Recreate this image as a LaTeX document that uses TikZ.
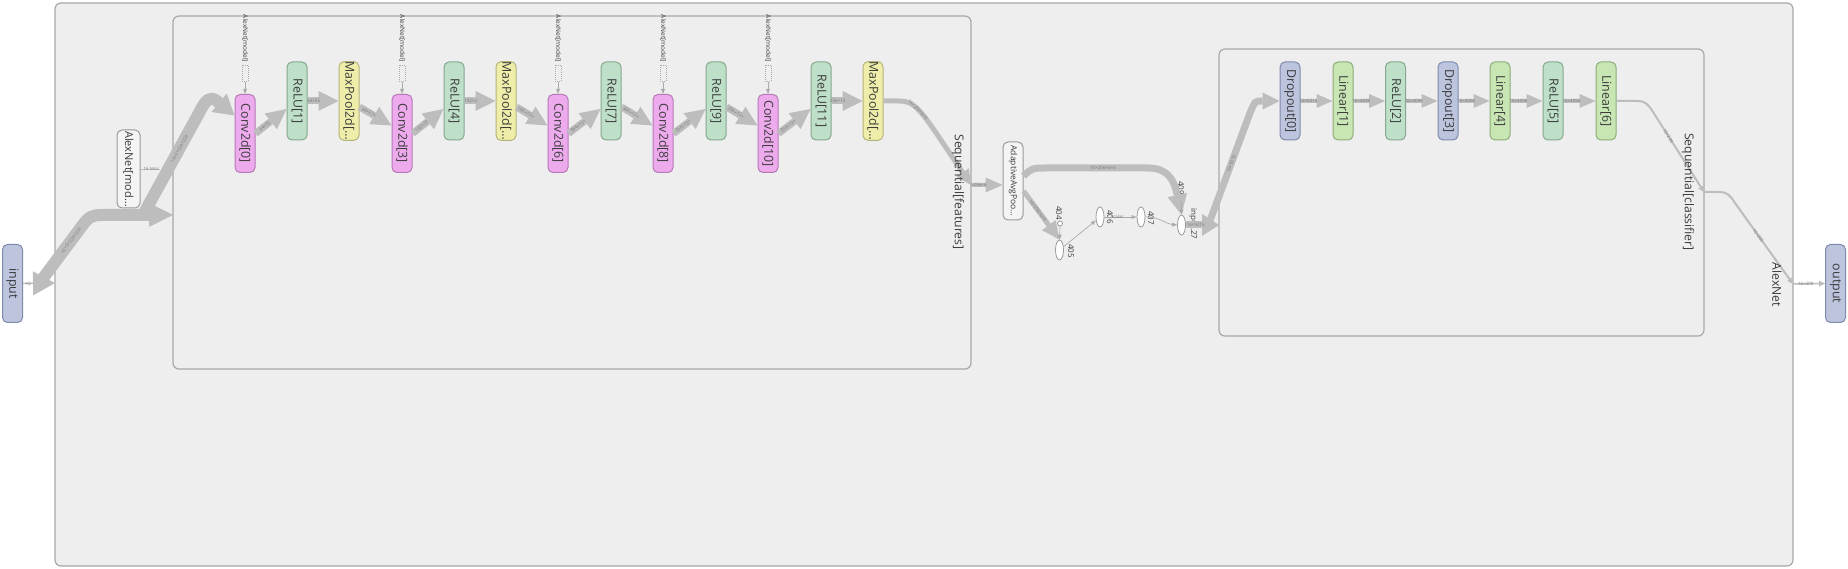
\documentclass[tikz,border=0pt]{standalone}
\usepackage{fontspec}
\setmainfont{Open Sans}
\usepackage{graphicx}
\usetikzlibrary{arrows.meta,calc,shapes.geometric}
\definecolor{bgc}{HTML}{EEEEEE}
\definecolor{clb}{HTML}{A8A8A8}
\definecolor{edgec}{HTML}{BDBDBD}
\definecolor{thinc}{HTML}{ABABAB}
\definecolor{convf}{HTML}{EDAAED}
\definecolor{convd}{HTML}{B679B6}
\definecolor{reluf}{HTML}{BEDFC8}
\definecolor{relud}{HTML}{86A88F}
\definecolor{poolf}{HTML}{EEEEAA}
\definecolor{poold}{HTML}{B4B47A}
\definecolor{dropf}{HTML}{BCC4DE}
\definecolor{dropd}{HTML}{7F8BAA}
\definecolor{linf}{HTML}{C8E5B4}
\definecolor{lind}{HTML}{8BAD79}
\definecolor{plainf}{HTML}{F4F4F4}
\definecolor{plaind}{HTML}{9A9A9A}
\definecolor{txt}{HTML}{3C3C3C}
\definecolor{lbl}{HTML}{7A7A7A}
\newcommand{\vtext}[1]{\rotatebox{-90}{#1}}
\begin{document}
\begin{tikzpicture}[x=1pt,y=-1pt,
  cluster/.style={draw=clb, fill=bgc, line width=1.2pt, rounded corners=6pt},
  op/.style={draw, rounded corners=5pt, minimum width=20pt, minimum height=78pt, inner sep=0pt, line width=1pt, text=txt, font=\fontsize{12.4}{12.4}\selectfont},
  conv/.style={op, fill=convf, draw=convd},
  relu/.style={op, fill=reluf, draw=relud},
  pool/.style={op, fill=poolf, draw=poold},
  drop/.style={op, fill=dropf, draw=dropd},
  lin/.style={op, fill=linf, draw=lind},
  plainop/.style={op, fill=plainf, draw=plaind},
  ell/.style={draw=plaind, fill=white, ellipse, minimum width=8pt, minimum height=20pt, inner sep=0pt, line width=0.8pt},
  dot/.style={draw=plaind, fill=white, circle, minimum size=5pt, inner sep=0pt, line width=0.8pt},
  dbox/.style={draw=thinc, dash pattern=on 1pt off 1pt, line width=0.6pt, minimum width=6pt, minimum height=16pt, inner sep=0pt},
  tlab/.style={text=txt, inner sep=0pt, font=\fontsize{6.5}{6.5}\selectfont},
  nlab/.style={text=txt, inner sep=0pt, font=\fontsize{8}{8}\selectfont},
  clab/.style={text=txt, inner sep=0pt, font=\fontsize{12.2}{12.2}\selectfont},
  lab/.style={font=\fontsize{4.5}{4.5}\selectfont, text=lbl, inner sep=0.5pt, sloped},
  fe/.style={draw=edgec, line width=7pt, line join=round, -{Triangle[width=20pt,length=20pt,line width=0pt]}},
  ce/.style={draw=edgec, line width=4pt, line join=round, -{Triangle[width=14pt,length=16pt,line width=0pt]}},
  thinarrow/.style={draw=thinc, line width=0.7pt, -{Triangle[width=4pt,length=5pt,line width=0pt]}},
]
\fill[white] (0,0) rectangle (1848,569);
\path[use as bounding box] (0,0) rectangle (1848,569);

% clusters
\draw[cluster] (55,3) rectangle (1793,566);
\draw[cluster] (173,16) rectangle (971,369);
\draw[cluster] (1219,49) rectangle (1704,336);

% nodes
\node[drop] (input) at (12.5,283.5) {\vtext{input}};
\node[drop] (output) at (1835.5,283.5) {\vtext{output}};
\node[plainop, minimum width=23pt, font=\fontsize{11}{11}\selectfont] (alexmod) at (128.5,169) {\vtext{AlexNet[mod…}};

\node[conv] (conv0) at (245,133.5) {\vtext{Conv2d[0]}};
\node[relu] (relu1) at (297,101) {\vtext{ReLU[1]}};
\node[pool] (mp2) at (349,101) {\vtext{MaxPool2d[…}};
\node[conv] (conv3) at (402,133.5) {\vtext{Conv2d[3]}};
\node[relu] (relu4) at (454,101) {\vtext{ReLU[4]}};
\node[pool] (mp5) at (506,101) {\vtext{MaxPool2d[…}};
\node[conv] (conv6) at (558,133.5) {\vtext{Conv2d[6]}};
\node[relu] (relu7) at (611,101) {\vtext{ReLU[7]}};
\node[conv] (conv8) at (663,133.5) {\vtext{Conv2d[8]}};
\node[relu] (relu9) at (716,101) {\vtext{ReLU[9]}};
\node[conv] (conv10) at (768,133.5) {\vtext{Conv2d[10]}};
\node[relu] (relu11) at (821,101) {\vtext{ReLU[11]}};
\node[pool] (mp12) at (873,101) {\vtext{MaxPool2d[…}};

\node[plainop, font=\fontsize{8.5}{8.5}\selectfont] (avgpool) at (1013,181) {\vtext{AdaptiveAvgPoo…}};
\node[dot] (n404) at (1060,223.5) {};
\node[ell] (n405) at (1059.5,250) {};
\node[ell] (n406) at (1100,217) {};
\node[ell] (n407) at (1141,217) {};
\node[dot] (n409) at (1181.5,199.5) {};
\node[ell] (n27) at (1181.5,225) {};
\node[nlab] at (1059,213) {\vtext{404}};
\node[nlab] at (1071,251) {\vtext{405}};
\node[nlab] at (1110,217) {\vtext{406}};
\node[nlab] at (1151,218) {\vtext{407}};
\node[nlab] at (1181,188) {\vtext{409}};
\node[nlab] at (1193,224) {\vtext{input.27}};

\node[drop] (dropout0) at (1290,101) {\vtext{Dropout[0]}};
\node[lin] (linear1) at (1343,101) {\vtext{Linear[1]}};
\node[relu] (relu2) at (1395.5,101) {\vtext{ReLU[2]}};
\node[drop] (dropout3) at (1448,101) {\vtext{Dropout[3]}};
\node[lin] (linear4) at (1500,101) {\vtext{Linear[4]}};
\node[relu] (relu5) at (1553,101) {\vtext{ReLU[5]}};
\node[lin] (linear6) at (1606,101) {\vtext{Linear[6]}};

% AlexNet[model] inputs of the convolutions
\foreach \c/\x in {conv0/245, conv3/402, conv6/558, conv8/663, conv10/768} {
  \node[tlab] at (\x,38.5) {\vtext{AlexNet[model]}};
  \node[dbox] (d\c) at (\x,73.5) {};
  \draw[thinarrow] (d\c) -- (\c);
}

% input side
\coordinate (ain) at (55,283);
\coordinate (ainb) at (38,285);
\coordinate (fin) at (173,215);
\coordinate (brs) at (143,215);
\coordinate (amodend) at (160,169);
\draw[draw=edgec, line width=0.8pt] (alexmod.east) -- (amodend) node[lab,pos=0.55]{16 tens};
\draw[draw=edgec, line width=1.5pt, -{Triangle[width=24pt,length=22pt,line width=0pt]}] (input.east) -- (ain) node[lab,pos=0.17]{×2};
\draw[draw=edgec, line width=12pt, line join=round, -{Triangle[width=24pt,length=24pt,line width=0pt]}] (ainb) -- (82,226) node[lab,pos=0.75]{16×3×224×224} .. controls (89,216) and (93,215) .. (102,215) -- (fin);
\draw[draw=edgec, line width=12pt, line join=round, -{Triangle[width=24pt,length=20pt,line width=0pt]}] (brs) -- (199,113) node[lab,pos=0.65]{16×3×224×224} .. controls (206,99) and (210,96) .. (217,101) -- ([yshift=18pt]conv0.west);

% features
\draw[fe] (conv0.east) -- ([yshift=-8pt]relu1.west) node[lab,pos=0.3]{64×55};
\draw[fe] (relu1.east) -- (mp2.west) node[lab,pos=0.2]{64×55};
\draw[fe] ([yshift=-6pt]mp2.east) -- ([yshift=8pt]conv3.west) node[lab,pos=0.3]{64×27×};
\draw[fe] (conv3.east) -- ([yshift=-8pt]relu4.west) node[lab,pos=0.3]{192×27};
\draw[fe] (relu4.east) -- (mp5.west) node[lab,pos=0.2]{192×2};
\draw[fe] ([yshift=-6pt]mp5.east) -- ([yshift=8pt]conv6.west) node[lab,pos=0.3]{192×13×};
\draw[fe] (conv6.east) -- ([yshift=-8pt]relu7.west) node[lab,pos=0.3]{384×13×};
\draw[fe] ([yshift=-6pt]relu7.east) -- ([yshift=8pt]conv8.west) node[lab,pos=0.3]{384×13×};
\draw[fe] (conv8.east) -- ([yshift=-8pt]relu9.west) node[lab,pos=0.3]{256×13×};
\draw[fe] ([yshift=-6pt]relu9.east) -- ([yshift=8pt]conv10.west) node[lab,pos=0.3]{256×13×};
\draw[fe] (conv10.east) -- ([yshift=-8pt]relu11.west) node[lab,pos=0.3]{256×13×};
\draw[fe] (relu11.east) -- (mp12.west) node[lab,pos=0.2]{256×13};

\coordinate (fout) at (971,185);
\draw[draw=edgec, line width=5pt, line join=round, -{Triangle[width=15pt,length=15pt,line width=0pt]}] (mp12.east) -- (899,101) .. controls (917,101) and (922,112) .. (fout) node[lab,pos=0.4]{16×256×6×6};
\draw[draw=edgec, line width=4pt, -{Triangle[width=15pt,length=17pt,line width=0pt]}] (fout) -- (fout -| avgpool.west) node[lab,pos=0.25]{×256×6};

% avgpool / flatten
\draw[draw=edgec, line width=5pt, -{Triangle[width=17pt,length=18pt,line width=0pt]}] ([yshift=-10pt]avgpool.east) -- (n405.north) node[lab,pos=0.4]{16×256×6×6};
\draw[draw=edgec, line width=7pt, line join=round, -{Triangle[width=20pt,length=20pt,line width=0pt]}] ([yshift=5pt]avgpool.east) .. controls (1032,168) .. (1048,168) -- (1148,168) node[lab,pos=0.55]{16×256×6×6} .. controls (1168,168) and (1174,180) .. (n27.north);
\draw[thinarrow] (n404) -- (n405);
\draw[thinarrow] (n405) -- (n406);
\draw[thinarrow] (n406) -- (n407) node[lab,pos=0.4]{scalar};
\draw[thinarrow] (n407.east) .. controls (1160,217) and (1166,224) .. (n27.west);
\draw[thinarrow] (n409) -- (n27.north);

\coordinate (cls) at (1219,225);
\coordinate (clsb) at (1208,226);
\draw[draw=edgec, line width=7pt, -{Triangle[width=22pt,length=17pt,line width=0pt]}] (n27.east) -- (cls) node[lab,pos=0.3]{16×9216};
\draw[draw=edgec, line width=7pt, line join=round, -{Triangle[width=17pt,length=17pt,line width=0pt]}] (clsb) -- (1250,113) node[lab,pos=0.55]{16×9216} .. controls (1255,101) .. (1262,101) -- (dropout0.west);

% classifier
\draw[ce] (dropout0.east) -- (linear1.west) node[lab,pos=0.25]{16×9216};
\draw[ce] (linear1.east) -- (relu2.west) node[lab,pos=0.25]{16×4096};
\draw[ce] (relu2.east) -- (dropout3.west) node[lab,pos=0.25]{16×4096};
\draw[ce] (dropout3.east) -- (linear4.west) node[lab,pos=0.25]{16×4096};
\draw[ce] (linear4.east) -- (relu5.west) node[lab,pos=0.25]{16×4096};
\draw[ce] (relu5.east) -- (linear6.west) node[lab,pos=0.25]{16×4096};

\coordinate (clsout) at (1704,192);
\coordinate (aout) at (1793,284);
\draw[draw=edgec, line width=2pt, line join=round, -{Triangle[width=6pt,length=6pt,line width=0pt]}] (linear6.east) -- (1637,101) .. controls (1645,101) and (1648,104) .. (1653,112) -- (clsout) node[lab,pos=0.3]{16×200};
\draw[draw=edgec, line width=2pt, line join=round, -{Triangle[width=6pt,length=6pt,line width=0pt]}] (clsout) -- (1719,192) .. controls (1727,192) and (1730,195) .. (1735,203) -- (aout) node[lab,pos=0.4]{16×200};
\draw[draw=edgec, line width=1.5pt, -{Triangle[width=6pt,length=6pt,line width=0pt]}] (aout) -- (output.west) node[lab,pos=0.4]{16×200};

% cluster labels
\node[clab] at (958,192) {\vtext{Sequential[features]}};
\node[clab] at (1688,192) {\vtext{Sequential[classifier]}};
\node[clab] at (1777,285) {\vtext{AlexNet}};
\end{tikzpicture}
\end{document}
